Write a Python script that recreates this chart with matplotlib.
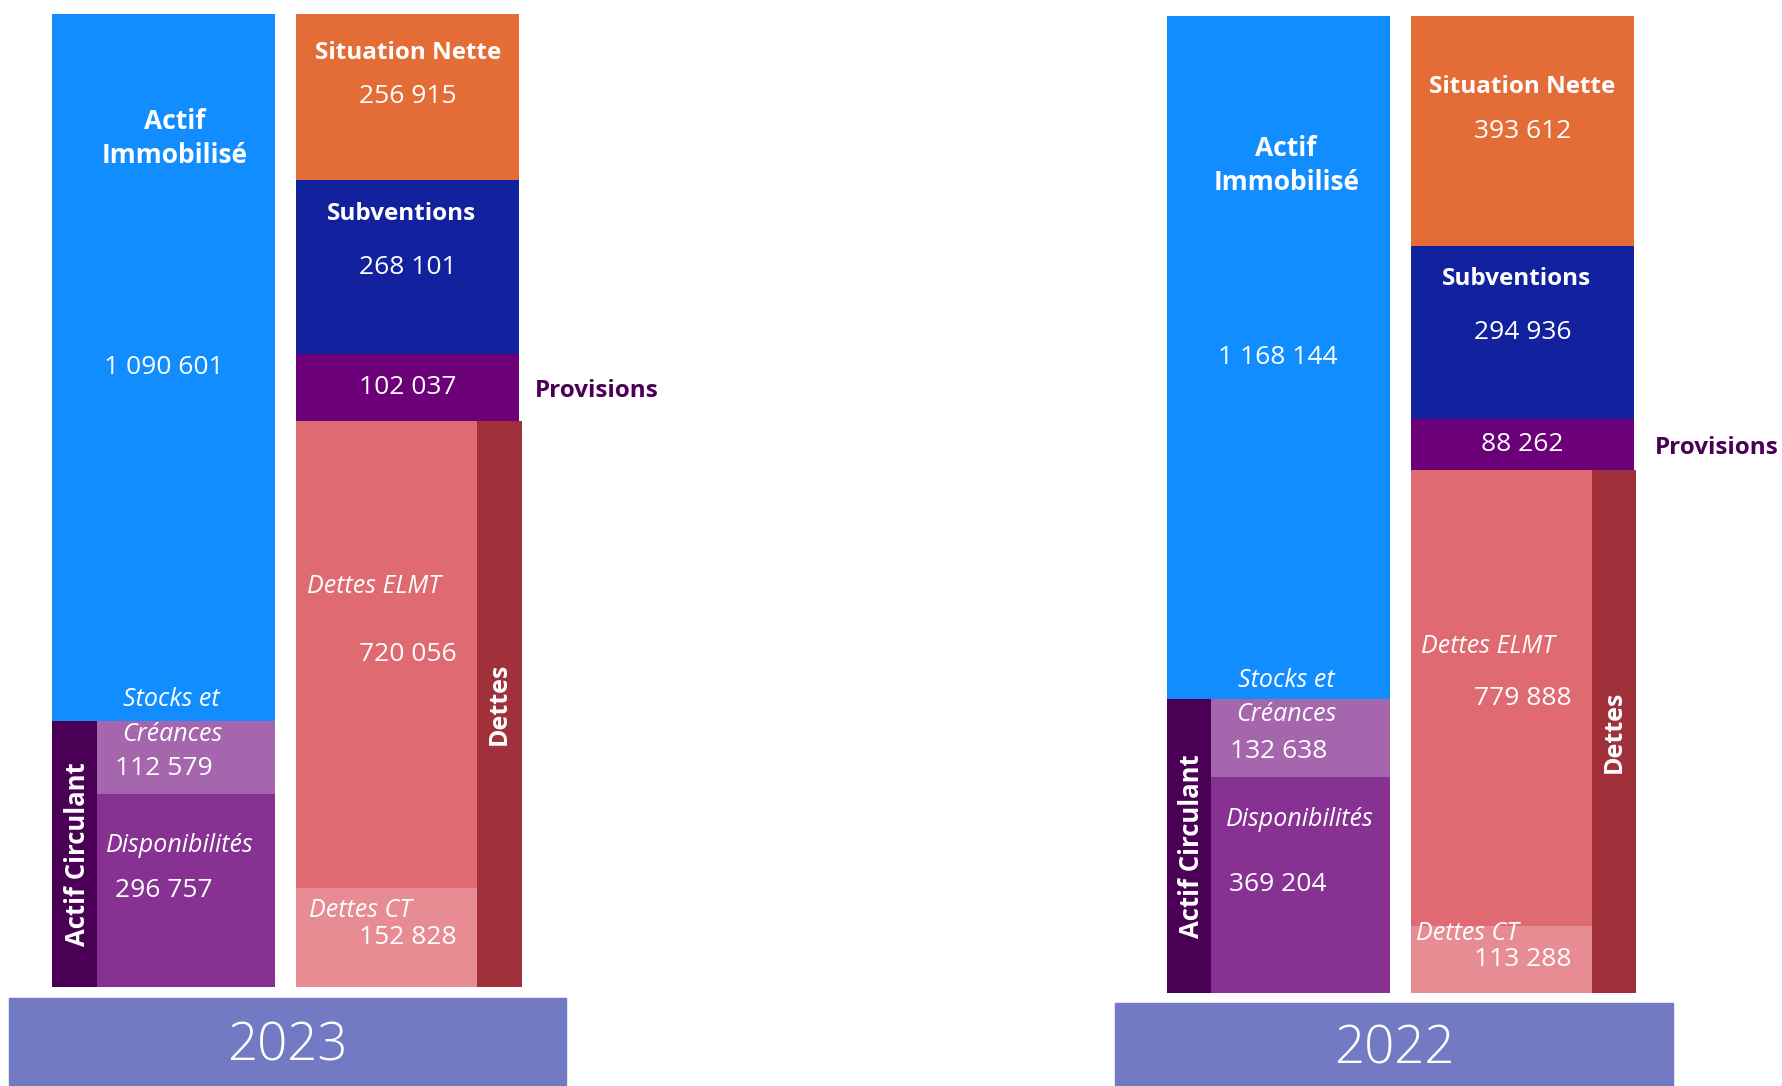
import matplotlib.pyplot as plt
from matplotlib.patches import Rectangle

plt.rcParams['font.family'] = ['Open Sans', 'DejaVu Sans']

# Data (bilan simplifie, en euros)
years = ['2023', '2022']
actif_immobilise = [1090601, 1168144]
stocks_creances = [112579, 132638]
disponibilites = [296757, 369204]
situation_nette = [256915, 393612]
subventions = [268101, 294936]
provisions = [102037, 88262]
dettes_elmt = [720056, 779888]
dettes_ct = [152828, 113288]

# Colours
C_IMMO = '#118DFF'
C_STOCKS = '#A566AE'
C_DISPO = '#873292'
C_ACTIF_CIRC = '#4A0055'
C_SN = '#E46C37'
C_SUBV = '#12219E'
C_PROV = '#6B0078'
C_ELMT = '#E06A71'
C_CT = '#E68C92'
C_DETTES = '#A0313A'
C_YEAR = '#727AC4'
C_PROV_TXT = '#4A0055'

W, H = 1783, 1086
BAR_PX = 223          # bar width in pixels
X_LIAB = 1.095        # liabilities bar position (in bar widths)

# panel layout in pixels, plus text offsets (px, negative = up)
layout = {
    '2023': dict(left=52.3, top=13.6, bottom=987, box=(9, 566, 998),
                 immo=(11, -229), sn=-44, subv=-53, elmt=(11, -68), ct=(13, -27),
                 stocks=(11, -69, -34), dispo=(16, -45), prov=15),
    '2022': dict(left=1166.7, top=15.9, bottom=992.7, box=(1115, 1673, 1003),
                 immo=(8, -192), sn=-44, subv=-53, elmt=(10, -52), ct=(5, -26),
                 stocks=(14, -71, -37), dispo=(22, -65), prov=21),
}

PT = 0.72  # points per pixel at dpi 100
F_VAL = 19
F_BOLD = 17.5
F_ITAL = 18


def fmt(v):
    return f'{v:,}'.replace(',', ' ')


def label(ax, x, y, text, dx=0, dy=0, **kw):
    opts = dict(ha='center', va='center', color='white', fontsize=F_VAL)
    opts.update(kw)
    ax.annotate(text, xy=(x, y), xytext=(dx * PT, -dy * PT),
                textcoords='offset points', annotation_clip=False, **opts)


fig = plt.figure(figsize=(W / 100, H / 100), dpi=100)

for i, year in enumerate(years):
    lay = layout[year]
    total = actif_immobilise[i] + stocks_creances[i] + disponibilites[i]
    ax = fig.add_axes([lay['left'] / W, (H - lay['bottom']) / H,
                       2.12 * BAR_PX / W, (lay['bottom'] - lay['top']) / H])
    ax.set_xlim(0, 2.12)
    ax.set_ylim(0, total)
    ax.axis('off')

    # Actif
    d, s, im = disponibilites[i], stocks_creances[i], actif_immobilise[i]
    ax.bar(0, d, width=1, align='edge', color=C_DISPO)
    ax.bar(0, s, bottom=d, width=1, align='edge', color=C_STOCKS)
    ax.bar(0, im, bottom=d + s, width=1, align='edge', color=C_IMMO)
    ax.bar(-0.005, d + s, width=0.205, align='edge', color=C_ACTIF_CIRC)

    # Passif
    ct, el, pr = dettes_ct[i], dettes_elmt[i], provisions[i]
    sv, sn = subventions[i], situation_nette[i]
    ax.bar(X_LIAB, ct, width=1, align='edge', color=C_CT)
    ax.bar(X_LIAB, el, bottom=ct, width=1, align='edge', color=C_ELMT)
    ax.bar(X_LIAB, pr, bottom=ct + el, width=1, align='edge', color=C_PROV)
    ax.bar(X_LIAB, sv, bottom=ct + el + pr, width=1, align='edge', color=C_SUBV)
    ax.bar(X_LIAB, sn, bottom=ct + el + pr + sv, width=1, align='edge', color=C_SN)
    ax.bar(X_LIAB + 0.81, ct + el, width=0.2, align='edge', color=C_DETTES)

    # Labels actif
    y_im = d + s + im / 2
    label(ax, 0.5, y_im, fmt(im))
    label(ax, 0.5, y_im, 'Actif\nImmobilisé', dx=lay['immo'][0], dy=lay['immo'][1],
          fontweight='bold', fontsize=19, linespacing=1.35)
    y_s = d + s / 2
    sdy = lay['stocks']
    label(ax, 0.5, y_s, fmt(s), dy=sdy[0])
    label(ax, 0.5, y_s, 'Stocks et', dx=8, dy=sdy[0] + sdy[1], fontstyle='italic',
          fontsize=F_ITAL)
    label(ax, 0.5, y_s, 'Créances', dx=8, dy=sdy[0] + sdy[2], fontstyle='italic',
          fontsize=F_ITAL)
    y_d = d / 2
    label(ax, 0.5, y_d, fmt(d))
    label(ax, 0.5, y_d, 'Disponibilités', dx=lay['dispo'][0], dy=lay['dispo'][1],
          fontstyle='italic', fontsize=F_ITAL)
    label(ax, 0.1, (d + s) / 2, 'Actif Circulant', dx=3, rotation=90,
          fontweight='bold', fontsize=18.5)

    # Labels passif
    xc = X_LIAB + 0.5
    y_sn = ct + el + pr + sv + sn / 2
    label(ax, xc, y_sn, fmt(sn))
    label(ax, xc, y_sn, 'Situation Nette', dy=lay['sn'], fontweight='bold',
          fontsize=F_BOLD)
    y_sv = ct + el + pr + sv / 2
    label(ax, xc, y_sv, fmt(sv))
    label(ax, xc, y_sv, 'Subventions', dx=-6, dy=lay['subv'], fontweight='bold',
          fontsize=F_BOLD)
    y_pr = ct + el + pr / 2
    label(ax, xc, y_pr, fmt(pr))
    label(ax, X_LIAB + 1, y_pr, 'Provisions', dx=lay['prov'], dy=4, ha='left',
          fontweight='bold', fontsize=F_BOLD, color=C_PROV_TXT)
    y_el = ct + el / 2
    label(ax, xc, y_el, fmt(el))
    label(ax, X_LIAB, y_el, 'Dettes ELMT', dx=lay['elmt'][0], dy=lay['elmt'][1],
          ha='left', fontstyle='italic', fontsize=F_ITAL)
    y_ct = ct / 2
    label(ax, xc, y_ct, fmt(ct))
    label(ax, X_LIAB, y_ct, 'Dettes CT', dx=lay['ct'][0], dy=lay['ct'][1],
          ha='left', fontstyle='italic', fontsize=F_ITAL)
    label(ax, X_LIAB + 0.91, (ct + el) / 2, 'Dettes', rotation=90,
          fontweight='bold', fontsize=F_ITAL)

    # Year box
    x0, x1, ytop = lay['box']
    fig.add_artist(Rectangle((x0 / W, 0), (x1 - x0) / W, (H - ytop) / H,
                             transform=fig.transFigure, color=C_YEAR))
    fig.text((x0 + x1) / 2 / W, ((H - ytop) / 2 - 5) / H, year, ha='center',
             va='center', color='white', fontsize=38, fontweight='light')

fig.savefig('out.png', dpi=100, facecolor='white')
